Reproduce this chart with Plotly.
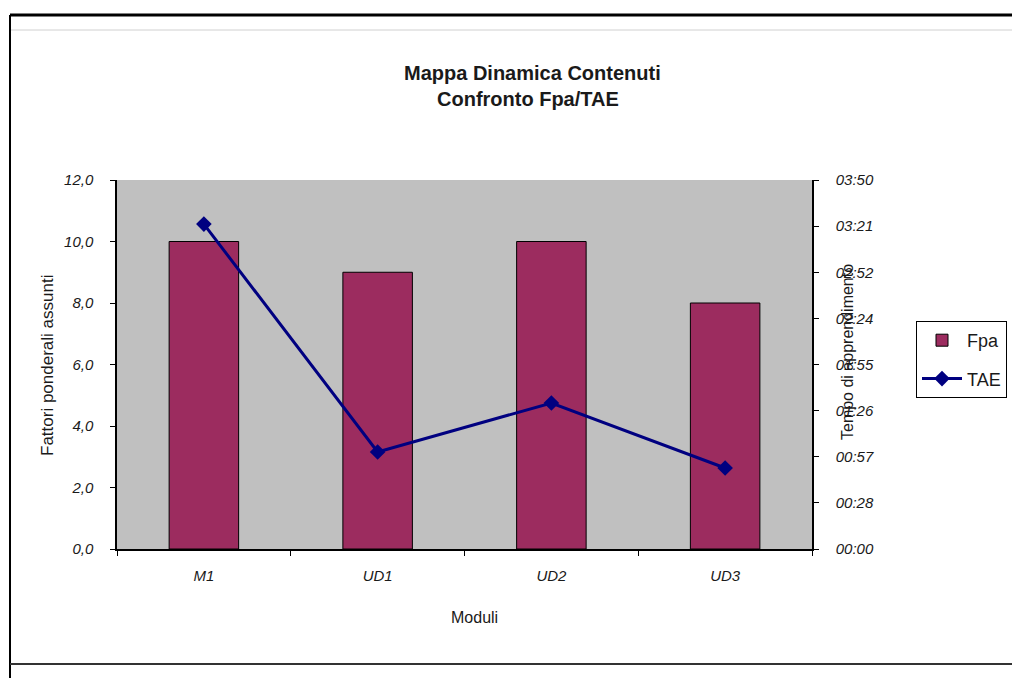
import plotly.graph_objects as go

# ---- data ----
categories = ["M1", "UD1", "UD2", "UD3"]
fpa_values = [10.0, 9.0, 10.0, 8.0]
tae_minutes = [202.5, 60.5, 91.0, 50.5]          # TAE in minutes
right_tick_labels = ["00:00", "00:28", "00:57", "01:26", "01:55",
                     "02:24", "02:52", "03:21", "03:50"]
right_max = 230.0
left_ticks = [0, 2, 4, 6, 8, 10, 12]

# page is offset by the default 8px body margin
OFF = 8
PAGE_W, PAGE_H = 1020, 678
W, H = PAGE_W - OFF, PAGE_H - OFF
L, R, T, B = 117, 812, 180, 549       # plot area in page pixels
pw, ph = R - L, B - T

def px(x):
    return (x - L) / pw

def py(y):
    return (B - y) / ph

FONT = "Liberation Sans, Arial, sans-serif"
BAR_COLOR = "#9c2c5f"
LINE_COLOR = "#000080"
TXT = "#1a1a1a"

fig = go.Figure()
fig.add_trace(go.Bar(
    x=categories, y=fpa_values, name="Fpa", legendgroup="g1",
    marker=dict(color=BAR_COLOR, line=dict(color="black", width=1)),
    yaxis="y", xaxis="x",
))
fig.add_trace(go.Scatter(
    x=categories, y=tae_minutes, name="TAE", mode="lines+markers",
    legendgroup="g2",
    line=dict(color=LINE_COLOR, width=3),
    marker=dict(symbol="diamond", size=12, color=LINE_COLOR),
    yaxis="y2", xaxis="x",
))

right_vals = [right_max * i / (len(right_tick_labels) - 1) for i in range(len(right_tick_labels))]

tickfont = dict(family=FONT, size=15, color=TXT, style="italic")

fig.update_layout(
    width=W, height=H,
    margin=dict(l=L - OFF, r=PAGE_W - R, t=T - OFF, b=PAGE_H - B),
    paper_bgcolor="white",
    plot_bgcolor="#c0c0c0",
    separators=",.",
    bargap=0.6,
    showlegend=True,
    font=dict(family=FONT, color=TXT),
    xaxis=dict(
        type="category", range=[-0.5, 3.5], tickson="boundaries",
        ticks="outside", ticklen=5, tickcolor="black", tickwidth=1,
        showline=True, linecolor="black", linewidth=1.5,
        showgrid=False, zeroline=False,
        tickfont=tickfont, ticklabelstandoff=12,
    ),
    xaxis2=dict(
        overlaying="x", range=[-0.5, 3.5], tickvals=[-0.5, 0.5, 1.5, 2.5, 3.5],
        ticks="inside", ticklen=5, tickcolor="black", showticklabels=False,
        showgrid=False, zeroline=False, showline=False, anchor="y",
    ),
    yaxis=dict(
        range=[0, 12], tickvals=left_ticks, tickformat=".1f",
        ticks="outside", ticklen=5, tickcolor="black", tickwidth=1,
        showline=True, linecolor="black", linewidth=1.5,
        showgrid=False, zeroline=False, tickfont=tickfont,
        ticklabelstandoff=14,
    ),
    yaxis3=dict(
        overlaying="y", range=[0, 12], tickvals=left_ticks, side="left",
        ticks="inside", ticklen=5, tickcolor="black", showticklabels=False,
        showgrid=False, zeroline=False, showline=False, anchor="x",
    ),
    yaxis2=dict(
        overlaying="y", side="right", range=[0, right_max],
        tickvals=right_vals, ticktext=right_tick_labels,
        ticks="outside", ticklen=5, tickcolor="black", tickwidth=1,
        showline=True, linecolor="black", linewidth=1.5,
        showgrid=False, zeroline=False, tickfont=tickfont,
        ticklabelstandoff=14, anchor="x",
    ),
    yaxis4=dict(
        overlaying="y", side="right", range=[0, right_max], tickvals=right_vals,
        ticks="inside", ticklen=5, tickcolor="black", showticklabels=False,
        showgrid=False, zeroline=False, showline=False, anchor="x",
    ),
    legend=dict(
        x=px(916), y=py(321), xanchor="left", yanchor="top",
        bordercolor="black", borderwidth=1, bgcolor="white",
        font=dict(family=FONT, size=18, color=TXT),
        itemwidth=40, tracegroupgap=12, traceorder="grouped",
    ),
)

# titles
fig.add_annotation(
    text="<b>Mappa Dinamica Contenuti</b>",
    xref="paper", yref="paper", x=px(532), y=py(73),
    showarrow=False, font=dict(family=FONT, size=20, color=TXT),
    xanchor="center", yanchor="middle",
)
fig.add_annotation(
    text="<b>Confronto Fpa/TAE</b>",
    xref="paper", yref="paper", x=px(528), y=py(99),
    showarrow=False, font=dict(family=FONT, size=20, color=TXT),
    xanchor="center", yanchor="middle",
)
fig.add_annotation(
    text="Moduli", xref="paper", yref="paper", x=px(474), y=py(617),
    showarrow=False, font=dict(family=FONT, size=16, color=TXT),
    xanchor="center", yanchor="middle",
)
fig.add_annotation(
    text="Fattori ponderali assunti", xref="paper", yref="paper",
    x=px(47), y=py(366), textangle=-90, showarrow=False,
    font=dict(family=FONT, size=17, color=TXT),
    xanchor="center", yanchor="middle",
)
fig.add_annotation(
    text="Tempo di apprendimento", xref="paper", yref="paper",
    x=px(847), y=py(352), textangle=-90, showarrow=False,
    font=dict(family=FONT, size=16, color=TXT),
    xanchor="center", yanchor="middle",
)

# outer frame lines (spreadsheet border)
fig.add_shape(type="line", xref="paper", yref="paper",
              x0=px(10), x1=px(1020), y0=py(15), y1=py(15),
              line=dict(color="black", width=3))
fig.add_shape(type="line", xref="paper", yref="paper",
              x0=px(10), x1=px(1020), y0=py(30), y1=py(30),
              line=dict(color="#d0d0d0", width=1))
fig.add_shape(type="line", xref="paper", yref="paper",
              x0=px(10), x1=px(10), y0=py(15), y1=py(678),
              line=dict(color="black", width=2))
fig.add_shape(type="line", xref="paper", yref="paper",
              x0=px(10), x1=px(1020), y0=py(664), y1=py(664),
              line=dict(color="#333", width=2))

fig.write_html("out.html")
